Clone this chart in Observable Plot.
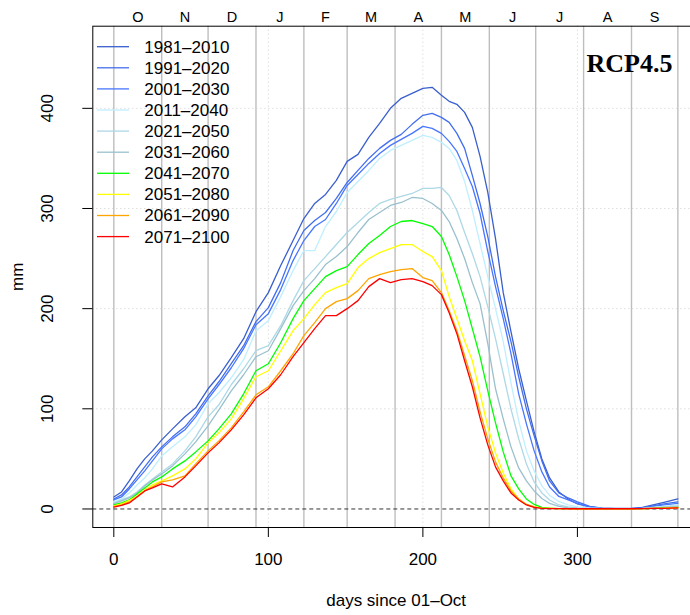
<!DOCTYPE html>
<html><head><meta charset="utf-8">
<script src="https://cdn.jsdelivr.net/npm/d3@7"></script>
<script src="https://cdn.jsdelivr.net/npm/@observablehq/plot@0.6"></script>
<style>
html,body{margin:0;padding:0;background:#fff;}
svg{overflow:hidden !important;display:block;}
</style>
</head><body><div id="chart"></div>
<script>
// ---- data ----
const days = [0,5,10,15,20,25,31,38,46,53,61,68,76,84,92,100,108,116,123,130,137,144,151,158,165,172,179,186,193,200,206,212,217,222,227,232,237,242,247,252,257,262,267,272,277,282,288,294,300,308,316,325,335,342,349,356,365];

const p1981 = [12,17,28,40,50,58,69,80,92,101,120,133,151,170,197,216,243,268,290,305,314,328,347,354,371,385,400,410,415,420,421,413,407,404,396,381,352,316,270,216,177,140,108,77,50,31,17,10,5,2,0.8,0.5,0.5,1.5,4,6.5,10];
const p1991 = [10,14,22,32,42,52,62,72,82,95,113,127,145,163,187,201,226,258,278,288,296,310,326,338,350,360,368,374,384,393,395,391,386,375,360,333,305,272,232,198,167,132,100,73,48,28,16,11,7,2.5,0.8,0.3,0.3,1,3,5,7];
const p2001 = [9,12,20,29,38,48,60,70,79,92,110,124,141,160,184,195,219,248,268,282,289,305,323,334,345,355,363,369,375,382,380,375,367,357,340,322,295,257,222,190,155,115,85,58,37,22,12.5,9,5.5,2,0.6,0.3,0.3,0.8,2.5,4,5.5];
const p2011 = [7,10,16,24,31,40,53,62,72,84,105,116,131,149,178,188,212,238,258,258,282,297,316,327,338,350,358,363,368,373,371,366,360,348,327,298,265,232,200,167,126,88,58,38,23,13.5,7.5,4,2,1,0.5,0.3,0.3,0.5,1.5,2.5,4];
const p2021 = [6,9,12,17,24,30,37,45,58,72,92,104,124,140,158,163,183,208,228,240,252,264,276,286,296,305,309,312,315,320,320,321,313,298,276,255,232,202,170,135,100,70,45,27,16,9,4,2,1,0.5,0.3,0.2,0.2,0.4,1,2,3];
const p2031 = [5,8,11,16,23,29,35,43,55,67,83,99,118,134,152,158,180,203,218,230,244,252,262,276,289,296,303,306,311,310,305,298,287,270,250,226,205,165,120,90,62,41,28,18,10.5,5.5,2.5,1,0.5,0.3,0.2,0.2,0.2,0.3,0.8,1.5,2];
const p2041 = [4,6,9,15,21,27,32,40,48,57,68,80,95,115,138,145,166,190,208,220,232,238,242,254,265,273,282,287,288,285,282,272,254,232,208,180,152,118,86,57,33,20,10,4.5,1.5,0.8,0.4,0.3,0.2,0.2,0.2,0.2,0.2,0.3,0.5,1,1.5];
const p2051 = [3,5,8.5,13,19,24,28,33,40,50,66,76,90,110,132,138,158,178,190,204,216,221,225,241,250,256,260,264,264,257,252,238,212,190,168,148,115,82,56,36,20,10,4.5,2,0.8,0.5,0.3,0.3,0.2,0.2,0.2,0.2,0.2,0.3,0.5,0.8,1.5];
const p2061 = [2.5,4,7,12,18,22,27,29,33,45,58,68,81,97,114,122,138,155,173,186,200,207,210,218,230,234,237,239,240,231,228,216,198,178,153,128,97,70,47,31,18,10,4.5,2,0.8,0.5,0.3,0.3,0.2,0.2,0.2,0.2,0.2,0.3,0.5,0.6,1.2];
const p2071 = [1.8,3.5,6,12,18,21,25,22,32,43,56,66,79,94,111,120,134,152,166,180,193,193,200,208,222,230,226,229,230,227,223,214,196,175,148,122,91,64,42,28,16,9,4,1.5,0.5,0.3,0.3,0.2,0.2,0.2,0.2,0.2,0.2,0.3,0.5,0.6,1];

const periods = ["1981–2010","1991–2020","2001–2030","2011–2040","2021–2050","2031–2060","2041–2070","2051–2080","2061–2090","2071–2100"];
const colors = ["#3a5fcd","#436eee","#4876ff","#bfefff","#add8e6","#9ac0cd","#00ff00","#ffff00","#ffa500","#ff0000"];

const monthStarts = [0,31,61,92,123,151,182,212,243,273,304,335,365];
const monthLabels = ["O","N","D","J","F","M","A","M","J","J","A","S"];
const xTicks = [0,100,200,300];
const yTicks = [0,100,200,300,400];
const yGrid = [100,200,300,400];

// ---- build table ----
const series = [p1981,p1991,p2001,p2011,p2021,p2031,p2041,p2051,p2061,p2071];
const table = periods.flatMap((p,i) => days.map((d,j) => ({day: d, swe: series[i][j], period: p})));
const months = monthLabels.map((m,i) => ({label: m, mid: (monthStarts[i] + monthStarts[i+1]) / 2}));

const chart = Plot.plot({
  width: 690, height: 615,
  marginLeft: 92.3, marginRight: -9, marginTop: 25.7, marginBottom: 88,
  x: {domain: [-13.6, 379]},
  y: {domain: [-18.5, 482]},
  color: {domain: periods, range: colors},
  style: {fontFamily: "'Liberation Sans', Arial, Helvetica, sans-serif", background: "white", color: "black"},
  marks: [
    Plot.ruleX(monthStarts, {stroke: "#bebebe", strokeWidth: 1.4}),
    Plot.ruleY(yGrid, {stroke: "#cfcfcf", strokeDasharray: "1,3"}),
    Plot.ruleX(xTicks.slice(1), {stroke: "#cfcfcf", strokeDasharray: "1,3"}),
    Plot.ruleY([0], {stroke: "#333", strokeDasharray: "4,3"}),
    Plot.line(table, {x: "day", y: "swe", z: "period", stroke: "period", strokeWidth: 1.3}),
    Plot.frame({stroke: "black"}),
    Plot.axisX({ticks: xTicks, tickSize: 10, tickPadding: 15, fontSize: 17, label: null}),
    Plot.axisY({ticks: yTicks, tickSize: 10, tickPadding: 30, fontSize: 17, tickRotate: -90, label: null}),
    Plot.text(months, {x: "mid", text: "label", frameAnchor: "top", lineAnchor: "middle", dy: -9, fontSize: 14.5}),
    Plot.text(["days since 01–Oct"], {frameAnchor: "bottom", lineAnchor: "middle", dy: 73, fontSize: 17}),
    Plot.text(["mm"], {frameAnchor: "left", textAnchor: "middle", lineAnchor: "middle", dx: -75, rotate: -90, fontSize: 17}),
    Plot.text(["RCP4.5"], {frameAnchor: "top-right", lineAnchor: "middle", dx: -27, dy: 37, textAnchor: "end", fontSize: 26, fontWeight: "bold", fontFamily: "'Liberation Serif', 'Times New Roman', serif"})
  ]
});

// legend inside the plot area
const svg = d3.select(chart);
const lg = svg.append("g").attr("font-size", 17).attr("fill", "black").attr("text-anchor", "start");
periods.forEach((p, i) => {
  const y = 46.7 + 21.1 * i;
  lg.append("line").attr("x1", 97).attr("x2", 129).attr("y1", y).attr("y2", y)
    .attr("stroke", colors[i]).attr("stroke-width", 1.3);
  lg.append("text").attr("x", 144.3).attr("y", y).attr("dy", "0.35em").attr("text-anchor", "start").text(p);
});

document.getElementById("chart").appendChild(chart);
</script>
</body></html>
